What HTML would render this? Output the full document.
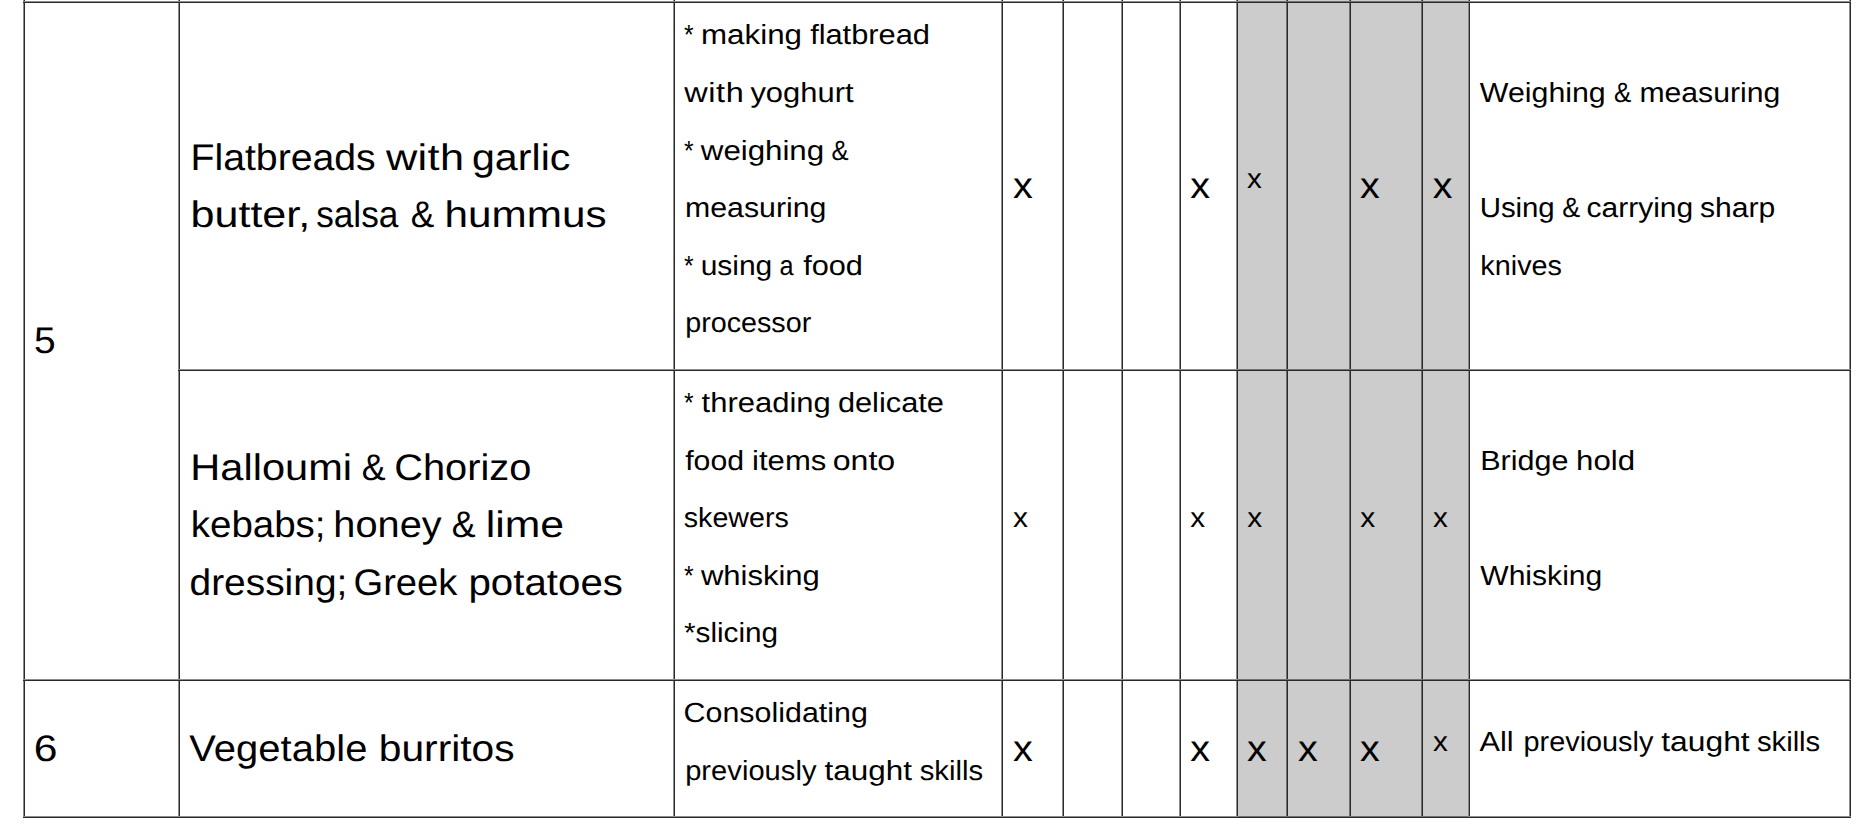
<!DOCTYPE html>
<html lang="en"><head><meta charset="utf-8"><title>Cooking skills table</title>
<style>
html,body{margin:0;padding:0;background:#fff;}
body{width:1860px;height:836px;position:relative;overflow:hidden;font-family:"Liberation Sans", sans-serif;color:#000;}
.g{position:absolute;background:#ccc;}
.l{position:absolute;}
p{margin:0;}
.t{position:absolute;white-space:nowrap;line-height:1;transform-origin:0 0;text-rendering:geometricPrecision;}
.b{font-size:37px;}
.s{font-size:27.75px;}
</style></head><body>
<div class="g" style="left:1238px;top:0;width:230px;height:817px"></div>
<div class="l" style="left:23px;top:0;width:1px;height:818px;background:rgba(0,0,0,0.45)"></div><div class="l" style="left:24px;top:0;width:1px;height:818px;background:#2a2a2a"></div>
<div class="l" style="left:178px;top:0;width:1px;height:818px;background:rgba(0,0,0,0.45)"></div><div class="l" style="left:179px;top:0;width:1px;height:818px;background:#2a2a2a"></div>
<div class="l" style="left:673px;top:0;width:1px;height:818px;background:rgba(0,0,0,0.45)"></div><div class="l" style="left:674px;top:0;width:1px;height:818px;background:#2a2a2a"></div>
<div class="l" style="left:1001px;top:0;width:1px;height:818px;background:rgba(0,0,0,0.45)"></div><div class="l" style="left:1002px;top:0;width:1px;height:818px;background:#2a2a2a"></div>
<div class="l" style="left:1062px;top:0;width:1px;height:818px;background:rgba(0,0,0,0.45)"></div><div class="l" style="left:1063px;top:0;width:1px;height:818px;background:#2a2a2a"></div>
<div class="l" style="left:1121px;top:0;width:1px;height:818px;background:rgba(0,0,0,0.45)"></div><div class="l" style="left:1122px;top:0;width:1px;height:818px;background:#2a2a2a"></div>
<div class="l" style="left:1179px;top:0;width:1px;height:818px;background:rgba(0,0,0,0.45)"></div><div class="l" style="left:1180px;top:0;width:1px;height:818px;background:#2a2a2a"></div>
<div class="l" style="left:1236px;top:0;width:1px;height:818px;background:rgba(0,0,0,0.45)"></div><div class="l" style="left:1237px;top:0;width:1px;height:818px;background:#2a2a2a"></div>
<div class="l" style="left:1286px;top:0;width:1px;height:818px;background:rgba(0,0,0,0.45)"></div><div class="l" style="left:1287px;top:0;width:1px;height:818px;background:#2a2a2a"></div>
<div class="l" style="left:1349px;top:0;width:1px;height:818px;background:rgba(0,0,0,0.45)"></div><div class="l" style="left:1350px;top:0;width:1px;height:818px;background:#2a2a2a"></div>
<div class="l" style="left:1421px;top:0;width:1px;height:818px;background:rgba(0,0,0,0.45)"></div><div class="l" style="left:1422px;top:0;width:1px;height:818px;background:#2a2a2a"></div>
<div class="l" style="left:1468px;top:0;width:1px;height:818px;background:rgba(0,0,0,0.45)"></div><div class="l" style="left:1469px;top:0;width:1px;height:818px;background:#2a2a2a"></div>
<div class="l" style="left:1849px;top:0;width:1px;height:818px;background:rgba(0,0,0,0.45)"></div><div class="l" style="left:1850px;top:0;width:1px;height:818px;background:#2a2a2a"></div>
<div class="l" style="left:23px;top:1px;width:1828px;height:1px;background:linear-gradient(to right,#8c8c8c 1215px,#707070 1215px,#707070 1445px,#8c8c8c 1445px)"></div><div class="l" style="left:23px;top:2px;width:1828px;height:1px;background:linear-gradient(to right,#2a2a2a 1215px,#292929 1215px,#292929 1445px,#2a2a2a 1445px)"></div>
<div class="l" style="left:178px;top:369px;width:1673px;height:1px;background:linear-gradient(to right,#8c8c8c 1060px,#707070 1060px,#707070 1290px,#8c8c8c 1290px)"></div><div class="l" style="left:178px;top:370px;width:1673px;height:1px;background:linear-gradient(to right,#2a2a2a 1060px,#292929 1060px,#292929 1290px,#2a2a2a 1290px)"></div>
<div class="l" style="left:23px;top:679px;width:1828px;height:1px;background:linear-gradient(to right,#8c8c8c 1215px,#707070 1215px,#707070 1445px,#8c8c8c 1445px)"></div><div class="l" style="left:23px;top:680px;width:1828px;height:1px;background:linear-gradient(to right,#2a2a2a 1215px,#292929 1215px,#292929 1445px,#2a2a2a 1445px)"></div>
<div class="l" style="left:23px;top:816px;width:1828px;height:1px;background:linear-gradient(to right,#8c8c8c 1215px,#707070 1215px,#707070 1445px,#8c8c8c 1445px)"></div><div class="l" style="left:23px;top:817px;width:1828px;height:1px;background:linear-gradient(to right,#2a2a2a 1215px,#292929 1215px,#292929 1445px,#2a2a2a 1445px)"></div>
<p><span class="t b" style="left:34px;top:322px;transform:translateX(0.07px) scaleX(1.0532)">5</span></p>
<p><span class="t b" style="left:33px;top:730px;transform:translateX(0.73px) scaleX(1.1527)">6</span></p>
<p><span class="t b" style="left:190px;top:139px;transform:translateX(0.56px) scaleX(1.0607);letter-spacing:-0.03px">Flatbreads</span> <span class="t b" style="left:385px;top:139px;transform:translateX(0.88px) scaleX(1.1700);letter-spacing:0.33px">with</span> <span class="t b" style="left:471px;top:139px;transform:translateX(0.93px) scaleX(1.1115);letter-spacing:0.04px">garlic</span></p>
<p><span class="t b" style="left:190px;top:196px;transform:translateX(0.55px) scaleX(1.1644);letter-spacing:-0.01px">butter,</span> <span class="t b" style="left:316px;top:196px;transform:translateX(0.14px) scaleX(0.9522)">salsa</span> <span class="t b" style="left:410px;top:196px;transform:translateX(0.74px) scaleX(0.9574)">&amp;</span> <span class="t b" style="left:444px;top:196px;transform:translateX(0.48px) scaleX(1.1414);letter-spacing:0.03px">hummus</span></p>
<p><span class="t b" style="left:190px;top:449px;transform:translateX(0.22px) scaleX(1.1231);letter-spacing:0.02px">Halloumi</span> <span class="t b" style="left:361px;top:449px;transform:translateX(0.64px) scaleX(0.9688)">&amp;</span> <span class="t b" style="left:394px;top:449px;transform:translateX(0.15px) scaleX(1.0740);letter-spacing:0.03px">Chorizo</span></p>
<p><span class="t b" style="left:190px;top:506px;transform:translateX(0.80px) scaleX(1.0397);letter-spacing:-0.01px">kebabs;</span> <span class="t b" style="left:333px;top:506px;transform:translateX(0.35px) scaleX(1.0734);letter-spacing:0.03px">honey</span> <span class="t b" style="left:451px;top:506px;transform:translateX(0.64px) scaleX(0.9688)">&amp;</span> <span class="t b" style="left:485px;top:506px;transform:translateX(0.68px) scaleX(1.1547)">lime</span></p>
<p><span class="t b" style="left:189px;top:564px;transform:translateX(0.54px) scaleX(1.0509)">dressing;</span> <span class="t b" style="left:353px;top:564px;transform:translateX(0.47px) scaleX(1.0311);letter-spacing:-0.01px">Greek</span> <span class="t b" style="left:468px;top:564px;transform:translateX(0.38px) scaleX(1.0873);letter-spacing:0.03px">potatoes</span></p>
<p><span class="t b" style="left:189px;top:730px;transform:translateX(0.36px) scaleX(1.0787);letter-spacing:0.05px">Vegetable</span> <span class="t b" style="left:378px;top:730px;transform:translateX(0.83px) scaleX(1.0995);letter-spacing:0.01px">burritos</span></p>
<p><span class="t s" style="left:684px;top:21px;transform:translateX(0.09px) scaleX(0.8897)">*</span> <span class="t s" style="left:700px;top:21px;transform:translateX(0.98px) scaleX(1.1280);letter-spacing:0.02px">making</span> <span class="t s" style="left:810px;top:21px;transform:translateX(0.13px) scaleX(1.1118);letter-spacing:-0.03px">flatbread</span></p>
<p><span class="t s" style="left:684px;top:79px;transform:translateX(0.37px) scaleX(1.1700);letter-spacing:0.45px">with</span> <span class="t s" style="left:750px;top:79px;transform:translateX(0.41px) scaleX(1.1133);letter-spacing:0.01px">yoghurt</span></p>
<p><span class="t s" style="left:684px;top:137px;transform:translateX(0.09px) scaleX(0.8897)">*</span> <span class="t s" style="left:700px;top:137px;transform:translateX(0.84px) scaleX(1.1291);letter-spacing:-0.05px">weighing</span> <span class="t s" style="left:831px;top:137px;transform:translateX(0.62px) scaleX(0.9234)">&amp;</span></p>
<p><span class="t s" style="left:684px;top:194px;transform:translateX(0.98px) scaleX(1.0913)">measuring</span></p>
<p><span class="t s" style="left:684px;top:252px;transform:translateX(0.09px) scaleX(0.8897)">*</span> <span class="t s" style="left:700px;top:252px;transform:translateX(0.64px) scaleX(1.0825);letter-spacing:-0.03px">using</span> <span class="t s" style="left:779px;top:252px;transform:translateX(0.60px) scaleX(0.9112)">a</span> <span class="t s" style="left:803px;top:252px;transform:translateX(0.37px) scaleX(1.1069);letter-spacing:-0.06px">food</span></p>
<p><span class="t s" style="left:685px;top:309px;transform:translateX(0.27px) scaleX(1.0352);letter-spacing:-0.02px">processor</span></p>
<p><span class="t s" style="left:684px;top:389px;transform:translateX(0.09px) scaleX(0.8897)">*</span> <span class="t s" style="left:701px;top:389px;transform:translateX(0.62px) scaleX(1.1176);letter-spacing:-0.02px">threading</span> <span class="t s" style="left:837px;top:389px;transform:translateX(0.88px) scaleX(1.1098);letter-spacing:-0.01px">delicate</span></p>
<p><span class="t s" style="left:685px;top:447px;transform:translateX(0.15px) scaleX(1.0895);letter-spacing:0.03px">food</span> <span class="t s" style="left:751px;top:447px;transform:translateX(0.96px) scaleX(1.1190);letter-spacing:0.04px">items</span> <span class="t s" style="left:832px;top:447px;transform:translateX(0.76px) scaleX(1.1578);letter-spacing:-0.02px">onto</span></p>
<p><span class="t s" style="left:683px;top:504px;transform:translateX(0.79px) scaleX(1.0312)">skewers</span></p>
<p><span class="t s" style="left:684px;top:562px;transform:translateX(0.09px) scaleX(0.8897)">*</span> <span class="t s" style="left:700px;top:562px;transform:translateX(0.94px) scaleX(1.1185);letter-spacing:-0.03px">whisking</span></p>
<p><span class="t s" style="left:683px;top:619px;transform:translateX(0.97px) scaleX(1.0723);letter-spacing:-0.01px">*slicing</span></p>
<p><span class="t s" style="left:683px;top:699px;transform:translateX(0.53px) scaleX(1.0948);letter-spacing:0.02px">Consolidating</span></p>
<p><span class="t s" style="left:685px;top:757px;transform:translateX(0.14px) scaleX(1.0479);letter-spacing:0.04px">previously</span> <span class="t s" style="left:824px;top:757px;transform:translateX(0.61px) scaleX(1.1324);letter-spacing:0.01px">taught</span> <span class="t s" style="left:919px;top:757px;transform:translateX(0.65px) scaleX(1.0554);letter-spacing:0.03px">skills</span></p>
<p><span class="t s" style="left:1479px;top:79px;transform:translateX(0.86px) scaleX(1.0935);letter-spacing:-0.01px">Weighing</span> <span class="t s" style="left:1613px;top:79px;transform:translateX(1.00px) scaleX(0.9360)">&amp;</span> <span class="t s" style="left:1639px;top:79px;transform:translateX(0.39px) scaleX(1.0865);letter-spacing:0.02px">measuring</span></p>
<p><span class="t s" style="left:1479px;top:194px;transform:translateX(0.69px) scaleX(1.0608);letter-spacing:-0.05px">Using</span> <span class="t s" style="left:1562px;top:194px;transform:translateX(0.21px) scaleX(0.9726)">&amp;</span> <span class="t s" style="left:1586px;top:194px;transform:translateX(0.58px) scaleX(1.0799)">carrying</span> <span class="t s" style="left:1699px;top:194px;transform:translateX(0.99px) scaleX(1.0845);letter-spacing:0.02px">sharp</span></p>
<p><span class="t s" style="left:1480px;top:252px;transform:translateX(0.34px) scaleX(1.0378);letter-spacing:0.01px">knives</span></p>
<p><span class="t s" style="left:1480px;top:447px;transform:translateX(0.19px) scaleX(1.1005)">Bridge</span> <span class="t s" style="left:1576px;top:447px;transform:translateX(0.11px) scaleX(1.1243);letter-spacing:0.01px">hold</span></p>
<p><span class="t s" style="left:1480px;top:562px;transform:translateX(0.24px) scaleX(1.0836);letter-spacing:0.01px">Whisking</span></p>
<p><span class="t s" style="left:1479px;top:728px;transform:translateX(0.55px) scaleX(1.1046);letter-spacing:-0.06px">All</span> <span class="t s" style="left:1523px;top:728px;transform:translateX(0.58px) scaleX(1.0394);letter-spacing:-0.01px">previously</span> <span class="t s" style="left:1661px;top:728px;transform:translateX(0.28px) scaleX(1.1458)">taught</span> <span class="t s" style="left:1757px;top:728px;transform:translateX(0.00px) scaleX(1.0552);letter-spacing:-0.05px">skills</span></p>
<p><span class="t b" style="left:1013px;top:167px;transform:translateX(0.00px) scaleX(1.0669)">x</span> <span class="t b" style="left:1190px;top:167px;transform:translateX(0.16px) scaleX(1.0669)">x</span> <span class="t b" style="left:1359px;top:167px;transform:translateX(0.90px) scaleX(1.0664)">x</span> <span class="t b" style="left:1432px;top:167px;transform:translateX(0.69px) scaleX(1.0641)">x</span></p>
<p><span class="t s" style="left:1247px;top:165px;transform:translateX(0.02px) scaleX(1.0683)">x</span></p>
<p><span class="t s" style="left:1013px;top:504px;transform:translateX(0.09px) scaleX(1.0773)">x</span> <span class="t s" style="left:1190px;top:504px;transform:translateX(0.36px) scaleX(1.0684)">x</span> <span class="t s" style="left:1247px;top:504px;transform:translateX(0.26px) scaleX(1.0775)">x</span> <span class="t s" style="left:1360px;top:504px;transform:translateX(0.26px) scaleX(1.0775)">x</span> <span class="t s" style="left:1433px;top:504px;transform:translateX(0.03px) scaleX(1.0686)">x</span></p>
<p><span class="t b" style="left:1013px;top:730px;transform:translateX(0.00px) scaleX(1.0669)">x</span> <span class="t b" style="left:1190px;top:730px;transform:translateX(0.16px) scaleX(1.0669)">x</span> <span class="t b" style="left:1246px;top:730px;transform:translateX(0.90px) scaleX(1.0664)">x</span> <span class="t b" style="left:1298px;top:730px;transform:translateX(0.00px) scaleX(1.0669)">x</span> <span class="t b" style="left:1359px;top:730px;transform:translateX(0.90px) scaleX(1.0664)">x</span></p>
<p><span class="t s" style="left:1433px;top:728px;transform:translateX(0.03px) scaleX(1.0686)">x</span></p>
</body></html>
